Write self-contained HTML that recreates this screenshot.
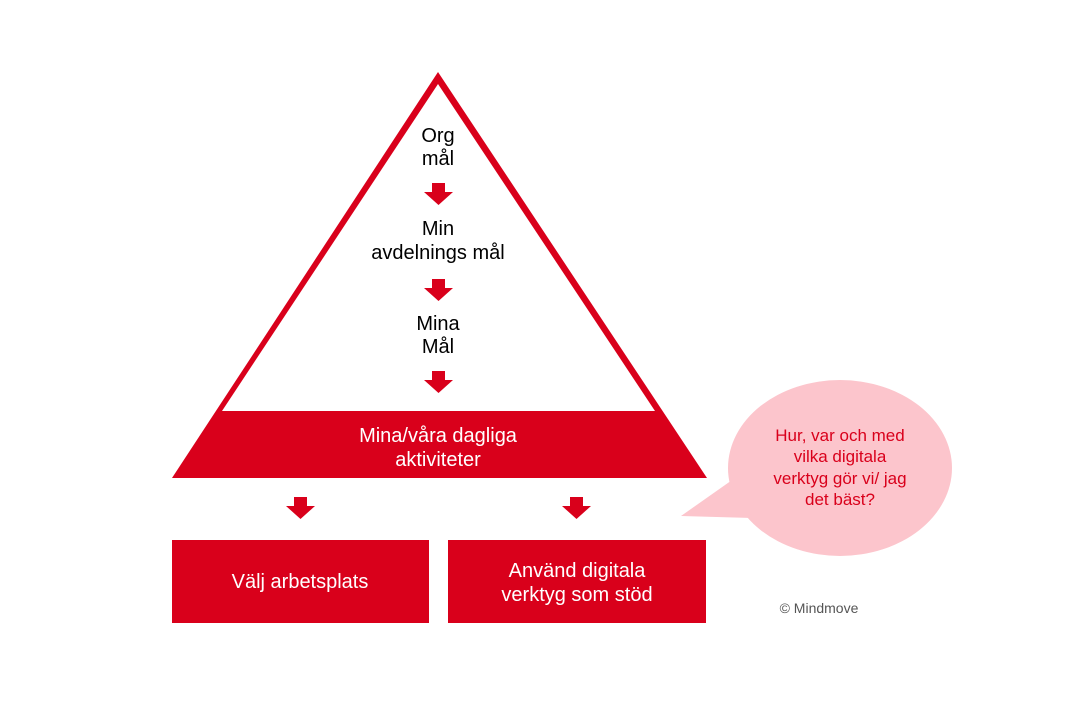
<!DOCTYPE html>
<html><head><meta charset="utf-8"><style>
body{margin:0;background:#fff;}
svg text{font-family:"Liberation Sans",Arial,sans-serif;}
</style></head><body>
<svg width="1080" height="720" viewBox="0 0 1080 720" xmlns="http://www.w3.org/2000/svg">
<rect width="1080" height="720" fill="#fff"/>
<polygon points="438,72 707,478 172,478" fill="#d9001b"/>
<polygon points="438,84 655,411 222,411" fill="#fff"/>
<g fill="#d9001b">
<path d="M432,183h13v9h8l-14.5,13l-14.5,-13h8z"/>
<path d="M432,279h13v9h8l-14.5,13l-14.5,-13h8z"/>
<path d="M432,371h13v9h8l-14.5,13l-14.5,-13h8z"/>
<path d="M294,497h13v9h8l-14.5,13l-14.5,-13h8z"/>
<path d="M570,497h13v9h8l-14.5,13l-14.5,-13h8z"/>
<rect x="172" y="540" width="257" height="83"/>
<rect x="448" y="540" width="258" height="83"/>
</g>
<g font-size="20" text-anchor="middle" fill="#000">
<text x="438" y="142">Org</text><text x="438" y="165">mål</text>
<text x="438" y="235">Min</text><text x="438" y="259">avdelnings mål</text>
<text x="438" y="330">Mina</text><text x="438" y="353">Mål</text>
</g>
<g font-size="20" text-anchor="middle" fill="#fff">
<text x="438" y="442">Mina/våra dagliga</text><text x="438" y="466">aktiviteter</text>
<text x="300" y="588">Välj arbetsplats</text>
<text x="577" y="577">Använd digitala</text><text x="577" y="601">verktyg som stöd</text>
</g>
<ellipse cx="840" cy="468" rx="112" ry="88" fill="#fcc5cc"/>
<polygon points="681,516 735,478 752,518" fill="#fcc5cc"/>
<g font-size="17" text-anchor="middle" fill="#d9001b">
<text x="840" y="441">Hur, var och med</text>
<text x="840" y="462">vilka digitala</text>
<text x="840" y="484">verktyg gör vi/ jag</text>
<text x="840" y="505">det bäst?</text>
</g>
<text x="819" y="613" font-size="14" text-anchor="middle" fill="#555">© Mindmove</text>
</svg>
</body></html>
